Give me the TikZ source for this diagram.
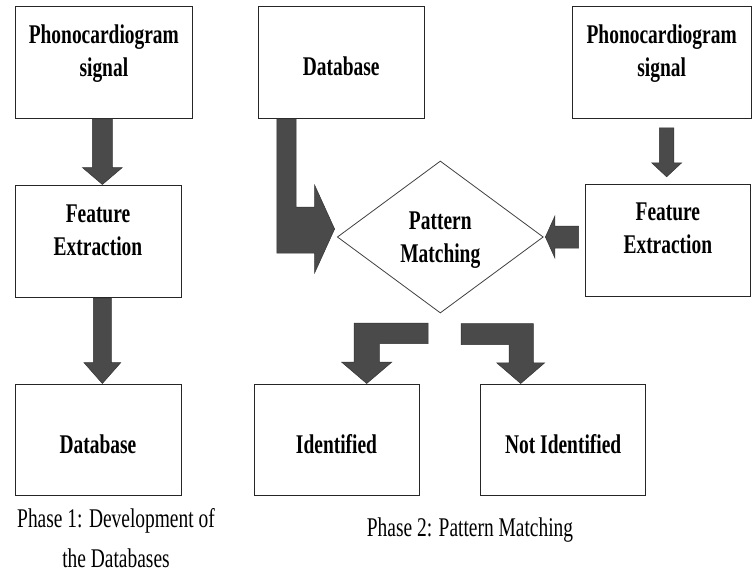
\documentclass[tikz,border=0pt]{standalone}
\usepackage{fontspec}
\usetikzlibrary{calc,shapes.geometric}
\newfontfamily\figfont{Liberation Serif}[FakeStretch=0.72]
\definecolor{arrowfill}{HTML}{4A4A4A}
\definecolor{arrowline}{HTML}{333333}
\begin{document}
\begin{tikzpicture}[x=1pt,y=-1pt,
  box/.style={draw=black!85, line width=1pt, rectangle, inner sep=0pt},
  boxtext/.style={font=\figfont\bfseries\fontsize{27}{33}\selectfont, align=center, inner sep=0pt},
  captext/.style={font=\figfont\fontsize{27}{40}\selectfont, align=center, inner sep=0pt},
  blockarrow/.style={fill=arrowfill, draw=arrowline, line width=0.5pt, line join=miter},
  decision/.style={diamond, draw=black!75, line width=0.8pt, inner sep=0pt}]
\useasboundingbox (0,0) rectangle (753,573);

% Phase 1
\node[box, minimum width=177.7, minimum height=112.3,
  label={[boxtext,yshift=8.6]center:Phonocardiogram\\signal}] (p1) at (103.85,62.15) {};
\node[box, minimum width=166, minimum height=112.5,
  label={[boxtext,yshift=11]center:Feature\\Extraction}] (f1) at (98,241.25) {};
\node[box, minimum width=166, minimum height=111,
  label={[boxtext,yshift=-4.6]center:Database}] (d1) at (98,439.5) {};

% Phase 2
\node[box, minimum width=165.7, minimum height=112.3,
  label={[boxtext,yshift=-3.7]center:Database}] (db2) at (341.15,62.15) {};
\node[box, minimum width=178.7, minimum height=112.3,
  label={[boxtext,yshift=8.6]center:Phonocardiogram\\signal}] (p2) at (661.65,62.15) {};
\node[box, minimum width=164.3, minimum height=111.7,
  label={[boxtext,yshift=12]center:Feature\\Extraction}] (f2) at (667.85,240.15) {};
\node[decision, minimum width=206, minimum height=152,
  label={[boxtext,yshift=-3.4]center:Pattern\\Matching}] (pm) at (440.3,237) {};
\node[box, minimum width=165, minimum height=111,
  label={[boxtext,yshift=-4.6]center:Identified}] (id) at (336.5,439.5) {};
\node[box, minimum width=165, minimum height=111,
  label={[boxtext,yshift=-4.6]center:Not Identified}] (nid) at (563.2,439.5) {};

% captions
\node[captext] (c1) at (116,538.1) {Phase 1: Development of\\the Databases};
\node[captext, anchor=base] (c2) at (470,536.7) {Phase 2: Pattern Matching};

% arrow p1 -> f1
\coordinate (a1s) at ($(p1.south)+(-1.5,0)$);
\coordinate (a1t) at (a1s |- f1.north);
\draw[blockarrow] ($(a1s)+(-10,0)$) -- ($(a1t)+(-10,-17)$) -- ($(a1t)+(-20,-17)$) -- (a1t)
  -- ($(a1t)+(20,-17)$) -- ($(a1t)+(10,-17)$) -- ($(a1s)+(10,0)$) -- cycle;

% arrow f1 -> d1
\coordinate (a2s) at (a1s |- f1.south);
\coordinate (a2t) at (a1s |- d1.north);
\draw[blockarrow] ($(a2s)+(-9,0)$) -- ($(a2t)+(-9,-21)$) -- ($(a2t)+(-18.5,-21)$) -- (a2t)
  -- ($(a2t)+(18.5,-21)$) -- ($(a2t)+(9,-21)$) -- ($(a2s)+(9,0)$) -- cycle;

% arrow p2 -> f2
\coordinate (a3s) at ($(f2.north |- p2.south)+(-1.2,9)$);
\coordinate (a3t) at ($(f2.north)+(-1.2,-7)$);
\draw[blockarrow] ($(a3s)+(-7.3,0)$) -- ($(a3t)+(-7.3,-14)$) -- ($(a3t)+(-15,-14)$) -- (a3t)
  -- ($(a3t)+(15,-14)$) -- ($(a3t)+(7.3,-14)$) -- ($(a3s)+(7.3,0)$) -- cycle;

% arrow f2 -> pm
\coordinate (a4t) at ($(pm.east)+(1.7,0)$);
\coordinate (a4s) at ($(f2.west |- a4t)+(-6.5,0)$);
\draw[blockarrow] ($(a4s)+(0,-11)$) -- ($(a4t)+(9.5,-11)$) -- ($(a4t)+(9.5,-21)$) -- (a4t)
  -- ($(a4t)+(9.5,21)$) -- ($(a4t)+(9.5,11)$) -- ($(a4s)+(0,11)$) -- cycle;

% bent arrow db2 -> pm
\coordinate (b5s) at ($(db2.south west)+(19,0)$);
\coordinate (b5t) at ($(pm.west)+(-2.3,-8)$);
\draw[blockarrow] (b5s) -- ($(b5s)+(19.4,0)$) -- ($(b5s |- b5t)+(19.4,-22)$)
  -- ($(b5t)+(-20,-22)$) -- ($(b5t)+(-20,-44)$) -- (b5t) -- ($(b5t)+(-20,44)$)
  -- ($(b5t)+(-20,24)$) -- ($(b5s |- b5t)+(0,24)$) -- cycle;

% bent arrow pm -> id
\coordinate (b6c) at ($(pm.south)+(-12.3,9.7)$);
\coordinate (b6t) at ($(id.north)+(30.2,0)$);
\draw[blockarrow] (b6c) -- ($(b6c)+(0,20.6)$) -- ($(b6t |- b6c)+(12.6,20.6)$)
  -- ($(b6t)+(12.6,-21.3)$) -- ($(b6t)+(25,-21.3)$) -- (b6t) -- ($(b6t)+(-25,-21.3)$)
  -- ($(b6t)+(-12.7,-21.3)$) -- ($(b6t |- b6c)+(-12.7,0)$) -- cycle;

% bent arrow pm -> nid
\coordinate (b7c) at ($(pm.south)+(20.7,10.3)$);
\coordinate (b7t) at ($(nid.north)+(-42.5,0)$);
\draw[blockarrow] (b7c) -- ($(b7t |- b7c)+(12.6,0)$) -- ($(b7t)+(12.6,-20.7)$)
  -- ($(b7t)+(24,-20.7)$) -- (b7t) -- ($(b7t)+(-24,-20.7)$) -- ($(b7t)+(-11.7,-20.7)$)
  -- ($(b7t |- b7c)+(-11.7,21)$) -- ($(b7c)+(0,21)$) -- cycle;
\end{tikzpicture}
\end{document}
